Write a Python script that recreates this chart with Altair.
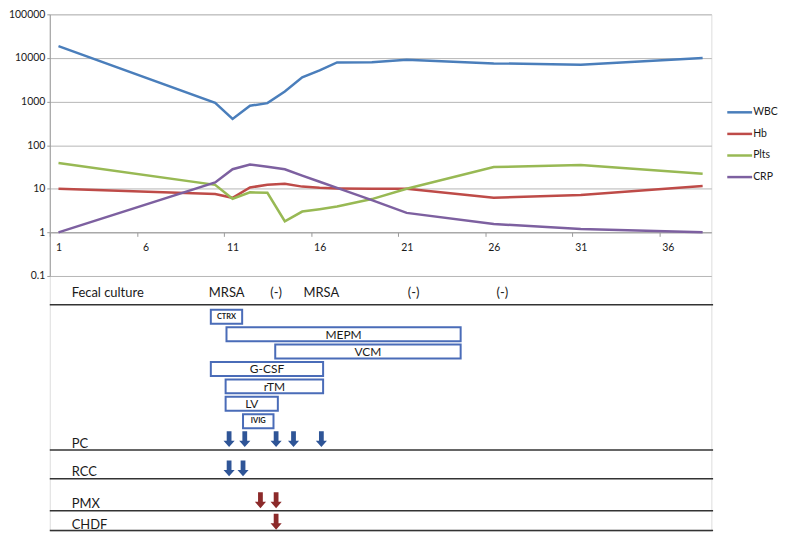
import altair as alt
import pandas as pd

# ---------------- data ----------------
days = [1, 10, 11, 12, 13, 14, 15, 16, 17, 19, 21, 26, 31, 38]
wbc = [18700, 930, 400, 800, 920, 1700, 3600, 5200, 7900, 8000, 9100, 7500, 7000, 10000]
hb = [10, 7.6, 6.2, 10.7, 12.3, 13.0, 11.2, 10.5, 10.2, 10.0, 10.0, 6.2, 7.2, 11.5]
plts = [39, 12.3, 5.9, 8.3, 8.1, 1.8, 3.0, 3.4, 3.9, 5.8, 10.0, 31.5, 35, 22]
crp = [1.0, 14, 28, 36, 32, 28, 20, 14.5, 10.5, 5.5, 2.8, 1.55, 1.2, 1.0]
series_names = ["WBC", "Hb", "Plts", "CRP"]

y_ticks = [0.1, 1, 10, 100, 1000, 10000, 100000]
x_tick_labels = [1, 6, 11, 16, 21, 26, 31, 36]

culture_days = [10.66, 13.5, 16.1, 21.4, 26.5]
culture_results = ["MRSA", "(-)", "MRSA", "(-)", "(-)"]

drugs = ["CTRX", "MEPM", "VCM", "G-CSF", "rTM", "LV", "IVIG"]
drug_start = [9.75, 10.65, 13.45, 9.75, 10.6, 10.6, 11.6]
drug_end = [11.55, 24.1, 24.1, 16.2, 16.2, 13.6, 13.35]

pc_days = [10.8, 11.7, 13.5, 14.5, 16.1]
rcc_days = [10.8, 11.6]
pmx_days = [12.6, 13.5]
chdf_days = [13.5]
row_labels = ["Fecal culture", "PC", "RCC", "PMX", "CHDF"]

# ---------------- layout / style ----------------
W, H = 665, 519
TOP_H = 263
LANE_PX = 17.5
LANE0_PX = 304
FONT = "Lato"
TXT = "#1a1a1a"
label_lane = {"Fecal culture": -1.37, "PC": 7.3, "RCC": 8.9, "PMX": 10.75, "CHDF": 11.95}
arrow_lane = {"PC": 7.03, "RCC": 8.71, "PMX": 10.54, "CHDF": 11.77}
separator_lanes = [-0.69, 7.66, 9.31, 11.14, 12.28]
series_colors = ["#4A7EBB", "#BE4B48", "#98B954", "#7D60A0"]
BOX_BLUE = "#4A6CB8"
ARROW_BLUE = "#2F5597"
ARROW_RED = "#8C2A2A"
ARROW_PATH = "M-0.3,-1L0.3,-1L0.3,0.2L0.7,0.2L0,1L-0.7,0.2L-0.3,0.2Z"

# ---------------- tables ----------------
lab = pd.DataFrame({
    "day": days * 4,
    "value": wbc + hb + plts + crp,
    "series": [s for s in series_names for _ in days],
})
boxes = pd.DataFrame({"drug": drugs, "start": drug_start, "end": drug_end,
                      "lane": list(range(len(drugs)))})
culture = pd.DataFrame({"day": culture_days, "result": culture_results,
                        "lane": [label_lane["Fecal culture"]] * len(culture_days)})
labels = pd.DataFrame({"label": row_labels, "lane": [label_lane[r] for r in row_labels]})
arrows = pd.DataFrame({
    "day": pc_days + rcc_days + pmx_days + chdf_days,
    "row": ["PC"] * len(pc_days) + ["RCC"] * len(rcc_days) + ["PMX"] * len(pmx_days) + ["CHDF"] * len(chdf_days),
})
arrows["lane"] = arrows["row"].map(arrow_lane)
seps = pd.DataFrame({"start": [0.5] * len(separator_lanes), "end": [38.6] * len(separator_lanes),
                     "lane": separator_lanes})

# ---------------- scales / axes ----------------
xscale = alt.Scale(domain=[0.5, 38.5], nice=False, zero=False)
one_px = TOP_H - TOP_H / 6.0
xaxis = alt.Axis(values=[v - 0.5 for v in x_tick_labels], labelExpr="datum.value + 0.5",
                 labelOffset=8.75, offset=-(H - one_px), title=None, grid=False,
                 domainColor="#9a9a9a", tickColor="#9a9a9a", tickSize=4, labelPadding=6,
                 labelFontSize=10.5, labelFont=FONT, labelColor=TXT,
                 labelFlush=False, labelOverlap=False)
yscale_top = alt.Scale(type="log", domain=[0.1, 100000], range=[TOP_H, 0], nice=False)
yaxis_top = alt.Axis(values=y_ticks, format="~g", title=None, grid=True, gridColor="#b5b5b5",
                     gridWidth=1, domainColor="#9a9a9a", tickColor="#9a9a9a", tickSize=3,
                     labelPadding=2, labelFontSize=10.5, labelFont=FONT, labelColor=TXT)
yscale_bot = alt.Scale(domain=[0, 12], range=[LANE0_PX, LANE0_PX + 12 * LANE_PX], nice=False, zero=False)

def X(field):
    return alt.X(field, scale=xscale, axis=xaxis, title=None)

def Yb(field):
    return alt.Y(field, scale=yscale_bot, axis=None)

# ---------------- top: lab values ----------------
lines = alt.Chart(lab).mark_line(strokeWidth=2.5).encode(
    x=X("day:Q"),
    y=alt.Y("value:Q", scale=yscale_top, axis=yaxis_top),
    color=alt.Color("series:N", scale=alt.Scale(domain=series_names, range=series_colors),
                    legend=alt.Legend(title=None, orient="none", legendX=686, legendY=91,
                                      symbolType="M-2,0L2,0", symbolSize=156, symbolStrokeWidth=2.5,
                                      labelOffset=6, rowPadding=8.7, padding=0,
                                      labelFontSize=10.5, labelFont=FONT, labelColor=TXT)),
    order="day:Q",
)
top = alt.layer(lines)

# ---------------- bottom: timeline ----------------
sep_layer = alt.Chart(seps).mark_rule(color="#333333", strokeWidth=1.5).encode(
    x=X("start:Q"), x2="end:Q", y=Yb("lane:Q"))

box_layer = alt.Chart(boxes).transform_calculate(
    y0="datum.lane - 0.4", y1="datum.lane + 0.4"
).mark_rect(fill="white", stroke=BOX_BLUE, strokeWidth=2).encode(
    x=X("start:Q"), x2="end:Q", y=Yb("y0:Q"), y2="y1:Q")

box_text_big = alt.Chart(boxes).transform_calculate(
    mid="(datum.start + datum.end) / 2", w="datum.end - datum.start"
).transform_filter("datum.w >= 2").mark_text(
    fontSize=12, font=FONT, color=TXT, baseline="middle", dy=0.5
).encode(x=X("mid:Q"), y=Yb("lane:Q"), text="drug:N")

box_text_small = alt.Chart(boxes).transform_calculate(
    mid="(datum.start + datum.end) / 2", w="datum.end - datum.start"
).transform_filter("datum.w < 2").mark_text(
    fontSize=7.5, font=FONT, fontWeight="bold", color=TXT, baseline="middle"
).encode(x=X("mid:Q"), y=Yb("lane:Q"), text="drug:N")

culture_layer = alt.Chart(culture).mark_text(
    fontSize=13, font=FONT, color=TXT, baseline="middle"
).encode(x=X("day:Q"), y=Yb("lane:Q"), text="result:N")

label_layer = alt.Chart(labels).mark_text(
    fontSize=13, font=FONT, color=TXT, baseline="middle", align="left"
).encode(x=alt.value(22), y=Yb("lane:Q"), text="label:N")

arrow_blue = alt.Chart(arrows).transform_filter(
    "datum.row == 'PC' || datum.row == 'RCC'"
).mark_point(shape=ARROW_PATH, filled=True, size=256, opacity=1, color=ARROW_BLUE, strokeWidth=0).encode(
    x=X("day:Q"), y=Yb("lane:Q"))

arrow_red = alt.Chart(arrows).transform_filter(
    "datum.row == 'PMX' || datum.row == 'CHDF'"
).mark_point(shape=ARROW_PATH, filled=True, size=256, opacity=1, color=ARROW_RED, strokeWidth=0).encode(
    x=X("day:Q"), y=Yb("lane:Q"))

bottom = alt.layer(sep_layer, box_layer, box_text_big, box_text_small,
                   culture_layer, label_layer, arrow_blue, arrow_red)

chart = alt.layer(top, bottom).resolve_scale(y="independent").properties(
    width=W, height=H,
    autosize=alt.AutoSizeParams(type="none"),
    padding={"left": 42, "top": 5, "right": 67, "bottom": 1},
).configure_view(stroke=None).configure(font=FONT)

chart.save("out.html", embed_options={"renderer": "svg", "actions": False})
